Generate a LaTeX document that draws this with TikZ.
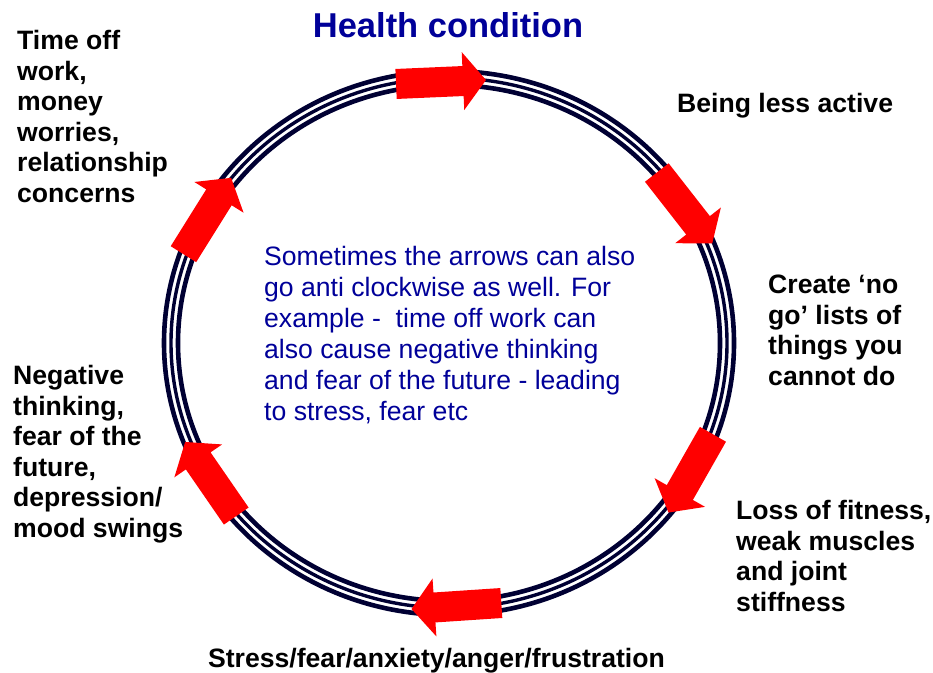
\documentclass[tikz,border=0pt]{standalone}
\usepackage{fontspec}
\setmainfont{Liberation Sans}
\definecolor{titleblue}{RGB}{0,0,153}
\definecolor{ringnavy}{RGB}{0,0,51}
\definecolor{arrowred}{RGB}{255,0,0}

\begin{document}
\begin{tikzpicture}[x=1pt, y=-1pt,
	slabel/.style={font=\bfseries\fontsize{26.6}{30.6}\selectfont, align=left, inner sep=0pt, anchor=north west},
	note/.style={font=\fontsize{26.6}{31}\selectfont, text=titleblue, align=left, inner sep=0pt, anchor=north west},
	ring/.style={draw=ringnavy},
	cyclearrow/.pic={\fill[arrowred] (-45,-15) -- (22,-15) -- (22,-29) -- (45,0) -- (22,29) -- (22,15) -- (-45,15) -- cycle;}]
	\useasboundingbox (0,0) rectangle (933,672);
	% the triple ring
	\draw[ring, line width=4.6pt] (449,343) ellipse [x radius=285, y radius=272];
	\draw[ring, line width=3.4pt] (449,343) ellipse [x radius=278, y radius=265];
	\draw[ring, line width=4.6pt] (449,343) ellipse [x radius=271, y radius=258];
	% arrows round the ring, clockwise
	\pic[rotate=2.5] (arr1) at (441,82) {cyclearrow};
	\pic[rotate=-52] (arr2) at (684.5,208) {cyclearrow};
	\pic[rotate=-119.6] (arr3) at (690.7,473.4) {cyclearrow};
	\pic[rotate=183.8] (arr4) at (456.4,606) {cyclearrow};
	\pic[rotate=124.6] (arr5) at (210.7,479) {cyclearrow};
	\pic[rotate=58] (arr6) at (207.3,216) {cyclearrow};
	% labels
	\node[font=\bfseries\fontsize{34.5}{36}\selectfont, text=titleblue, inner sep=0pt] (health) at (448,25) {Health condition};
	\node[slabel] (active) at (677,93) {Being less active};
	\node[slabel] (nogo) at (768,275) {Create ‘no\\go’ lists of\\things you\\cannot do};
	\node[slabel] (fitness) at (736,500) {Loss of fitness,\\weak muscles\\and joint\\stiffness};
	\node[slabel, anchor=base] (stress) at (436.5,667) {Stress/fear/anxiety/anger/frustration};
	\node[slabel] (negative) at (13,365) {Negative\\thinking,\\fear of the\\future,\\depression/\\mood swings};
	\node[slabel] (timeoff) at (17,30) {Time off\\work,\\money\\worries,\\relationship\\concerns};
	\node[note] (anticlock) at (264,246) {Sometimes the arrows can also\\go anti clockwise as well. For\\example -\ \ time off work can\\also cause negative thinking\\and fear of the future - leading\\to stress, fear etc};
\end{tikzpicture}
\end{document}
